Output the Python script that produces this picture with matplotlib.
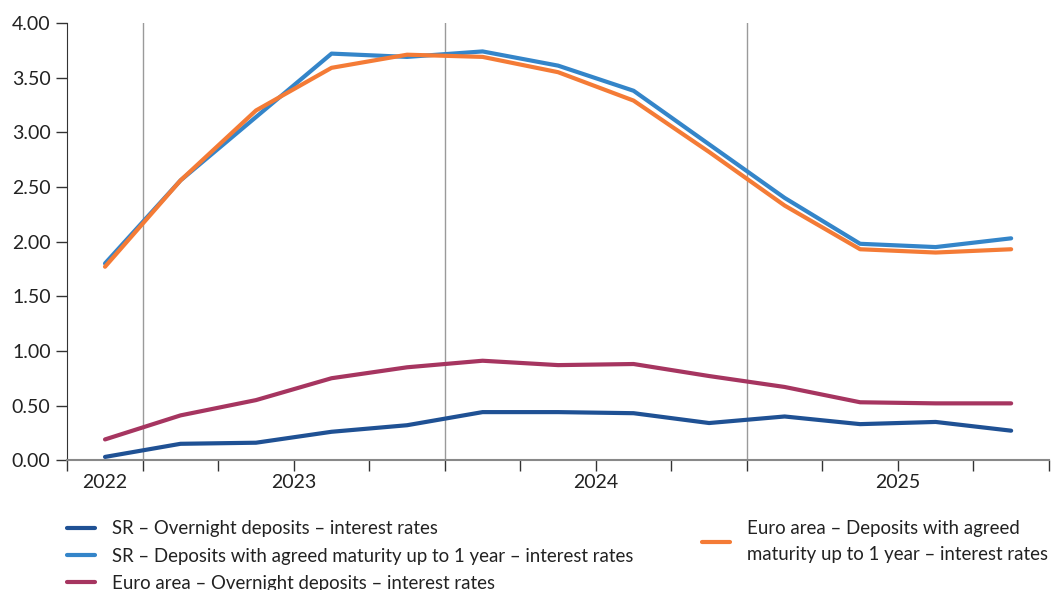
import numpy as np
import matplotlib.pyplot as plt
import matplotlib.transforms as mtransforms

plt.rcParams['font.family'] = ['Lato', 'DejaVu Sans']

# quarterly observations, Q4 2022 .. Q4 2025
sr_overnight = [0.03, 0.15, 0.16, 0.26, 0.32, 0.44, 0.44, 0.43, 0.34, 0.40, 0.33, 0.35, 0.27]
sr_agreed = [1.80, 2.56, 3.14, 3.72, 3.69, 3.74, 3.61, 3.38, 2.89, 2.40, 1.98, 1.95, 2.03]
ea_overnight = [0.19, 0.41, 0.55, 0.75, 0.85, 0.91, 0.87, 0.88, 0.77, 0.67, 0.53, 0.52, 0.52]
ea_agreed = [1.77, 2.56, 3.20, 3.59, 3.71, 3.69, 3.55, 3.29, 2.82, 2.33, 1.93, 1.90, 1.93]

years = ['2022', '2023', '2024', '2025']
year_pos = [0, 2.5, 6.5, 10.5]
vlines = [0.5, 4.5, 8.5]

labels = ['SR – Overnight deposits – interest rates',
          'SR – Deposits with agreed maturity up to 1 year – interest rates',
          'Euro area – Overnight deposits – interest rates',
          'Euro area – Deposits with agreed\nmaturity up to 1 year – interest rates']
colors = ['#1f5194', '#3485c9', '#a63560', '#f47b36']

x = np.arange(len(sr_overnight))
txt = '#222222'

fig = plt.figure(figsize=(10.51, 5.90), dpi=100)
ax = fig.add_axes([0.064, 0.22, 0.934, 0.741])

for v in vlines:
    ax.axvline(v, color='#9a9a9a', lw=1.0, zorder=1)

l1, = ax.plot(x, sr_overnight, color=colors[0], lw=3, solid_capstyle='round', zorder=3)
l2, = ax.plot(x, sr_agreed, color=colors[1], lw=3, solid_capstyle='round', zorder=3)
l3, = ax.plot(x, ea_overnight, color=colors[2], lw=3, solid_capstyle='round', zorder=3)
l4, = ax.plot(x, ea_agreed, color=colors[3], lw=3, solid_capstyle='round', zorder=3)

ax.set_xlim(-0.5, 12.5)
ax.set_ylim(0, 4)
ax.set_yticks(np.arange(0, 4.01, 0.5))
ax.set_yticklabels(['%.2f' % v for v in np.arange(0, 4.01, 0.5)], fontsize=14, color=txt)
ax.set_xticks(np.arange(-0.5, 12.6, 1))
ax.set_xticklabels([])
ax.tick_params(axis='x', length=8, width=1, color='#333333', direction='out')
ax.tick_params(axis='y', length=8, width=1, color='#333333', pad=4)

# year labels centred under their quarters
trans = mtransforms.blended_transform_factory(ax.transData, ax.transAxes)
for p, yr in zip(year_pos, years):
    ax.text(p, -0.05, yr, transform=trans, ha='center', va='center', fontsize=14, color=txt)

for s in ['top', 'right']:
    ax.spines[s].set_visible(False)
ax.spines['left'].set_color('#333333')
ax.spines['bottom'].set_color('#888888')
ax.spines['bottom'].set_linewidth(1.5)

leg1 = fig.legend([l1, l2, l3], labels[:3], loc='upper left', bbox_to_anchor=(0.064, 0.118),
                  frameon=False, fontsize=13.4, handlelength=1.5, labelspacing=0.55,
                  handletextpad=0.9, labelcolor=txt, borderaxespad=0, borderpad=0)
leg2 = fig.legend([l4], labels[3:], loc='upper left', bbox_to_anchor=(0.668, 0.118),
                  frameon=False, fontsize=13.4, handlelength=1.5,
                  handletextpad=0.9, labelcolor=txt, borderaxespad=0, borderpad=0)
for t in leg2.get_texts():
    t.set_linespacing(1.6)

fig.savefig('out.png', dpi=100)
